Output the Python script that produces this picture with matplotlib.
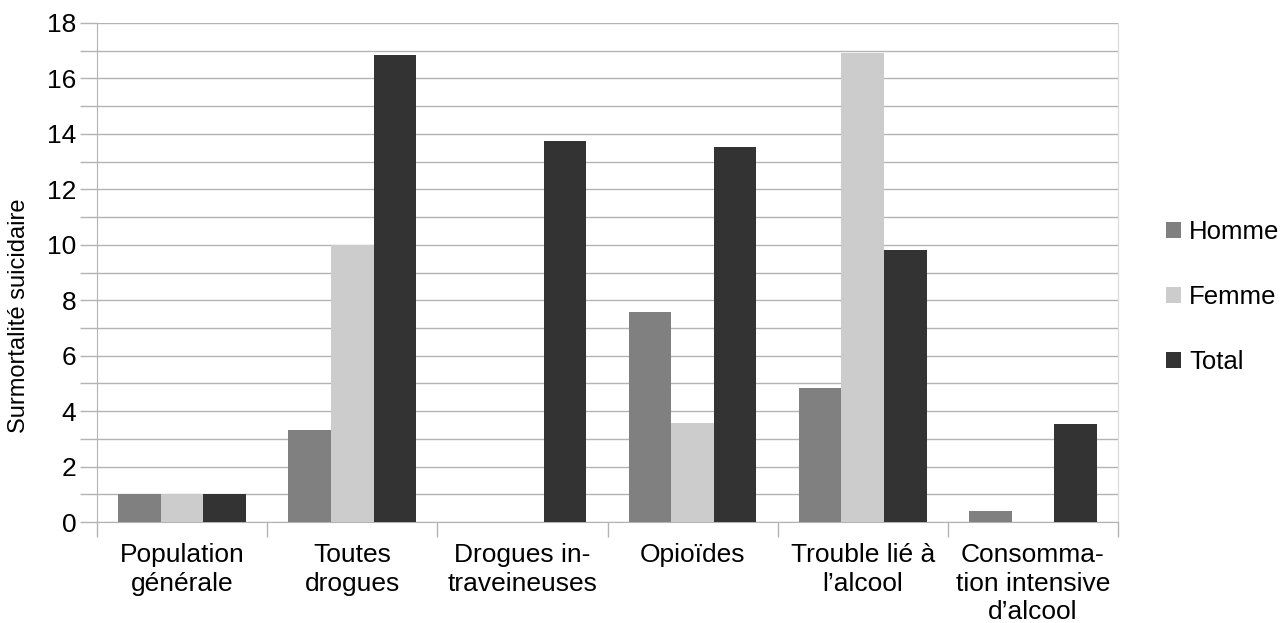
import matplotlib
matplotlib.use("Agg")
import matplotlib.pyplot as plt
import numpy as np

plt.rcParams["font.family"] = ["Liberation Sans", "DejaVu Sans"]

categories = [
    "Population\ngénérale",
    "Toutes\ndrogues",
    "Drogues in-\ntraveineuses",
    "Opioïdes",
    "Trouble lié à\nl’alcool",
    "Consomma-\ntion intensive\nd’alcool",
]
series_names = ["Homme", "Femme", "Total"]
homme = [1.0, 3.32, 0.0, 7.58, 4.83, 0.40]
femme = [1.0, 10.0, 0.0, 3.57, 16.92, 0.0]
total = [1.0, 16.85, 13.74, 13.53, 9.81, 3.54]
colors = ["#808080", "#cccccc", "#333333"]

GRID = "#b3b3b3"


def plot():
    fig = plt.figure(figsize=(12.83, 6.23), dpi=100)
    ax = fig.add_axes([97 / 1283, 1 - 522 / 623, 1021 / 1283, 499 / 623])

    x = np.arange(len(categories))
    width = 0.25
    for k, (name, values) in enumerate(zip(series_names, [homme, femme, total])):
        ax.bar(x + (k - 1) * width, values, width, color=colors[k], label=name,
               zorder=3, linewidth=0)

    ax.set_xlim(-0.5, len(categories) - 0.5)
    ax.set_ylim(0, 18)

    # y axis: grid and ticks every unit, labels every 2
    ax.set_yticks(np.arange(0, 19, 2))
    ax.set_yticks(np.arange(1, 18, 2), minor=True)
    ax.tick_params(axis="y", which="both", length=12, width=1, color=GRID,
                   labelsize=19, pad=3)
    ax.grid(axis="y", which="both", color=GRID, linewidth=1, zorder=0)

    # x axis: separators between categories, labels in the middle
    ax.set_xticks(np.arange(-0.5, len(categories), 1))
    ax.set_xticklabels([])
    ax.set_xticks(x, minor=True)
    ax.set_xticklabels(categories, minor=True, fontsize=19, linespacing=1.25)
    ax.tick_params(axis="x", which="minor", length=0, pad=15)
    ax.tick_params(axis="x", which="major", length=11, width=1, color=GRID)

    for side in ["left", "bottom"]:
        ax.spines[side].set_color(GRID)
    ax.spines["right"].set_color("#d9d9d9")
    ax.spines["top"].set_visible(False)

    ax.set_ylabel("Surmortalité suicidaire", fontsize=17)
    ax.yaxis.set_label_coords(-0.0656, 0.413)

    fig.legend(loc="center left", bbox_to_anchor=(1153 / 1283, 1 - 297 / 623),
               frameon=False, fontsize=18.5, handlelength=0.6, handleheight=0.6,
               handletextpad=0.3, labelspacing=1.6, borderpad=0)

    fig.savefig("out.png", dpi=100)


def main():
    plot()


if __name__ == "__main__":
    main()
